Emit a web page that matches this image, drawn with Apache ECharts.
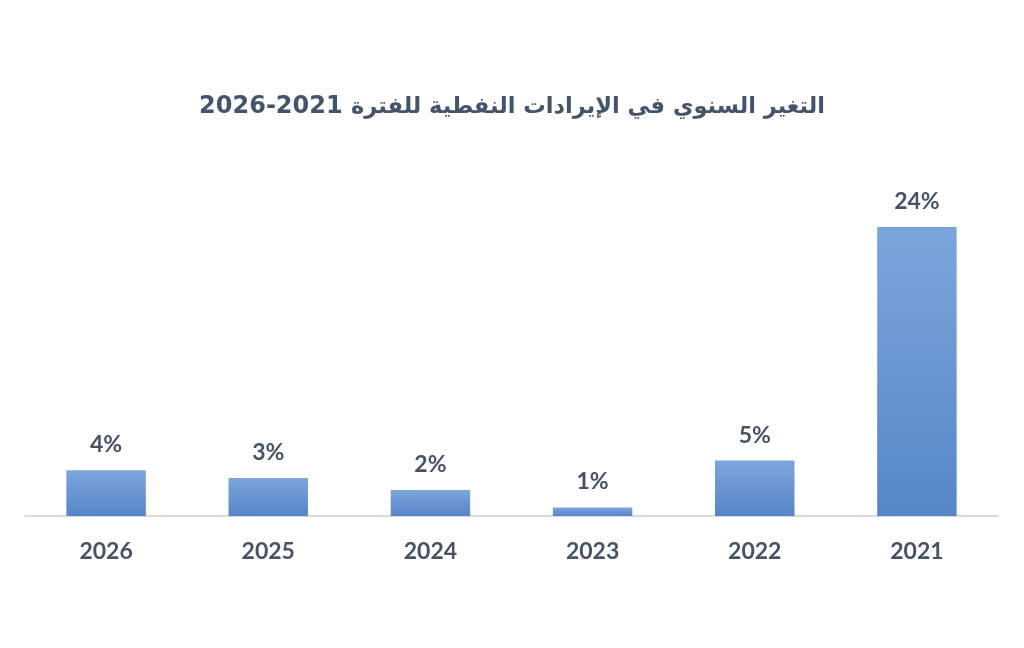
<!DOCTYPE html>
<html>
<head>
<meta charset="utf-8">
<script src="https://cdn.jsdelivr.net/npm/echarts@6/dist/echarts.min.js"></script>
<style>
html,body{margin:0;padding:0;background:#fff;}
#c{width:1024px;height:648px;}
</style>
</head>
<body>
<div id="c"></div>
<script>
const titleYears = "2026-2021";
const titleWords = "التغير السنوي في الإيرادات النفطية للفترة";
const categories = ["2026", "2025", "2024", "2023", "2022", "2021"];
const values = [3.8, 3.15, 2.15, 0.7, 4.6, 24];

const chart = echarts.init(document.getElementById('c'), null, {renderer: 'canvas'});
chart.setOption({
  animation: false,
  backgroundColor: '#ffffff',
  title: {
    text: '{n|' + titleYears + ' }{a|' + titleWords + '}',
    left: 'center',
    top: 87,
    textStyle: {
      fontFamily: 'DejaVu Sans, sans-serif',
      fontWeight: 'bold',
      fontSize: 24,
      color: '#44546a',
      rich: {
        n: {fontFamily: 'DejaVu Sans, sans-serif', fontWeight: 'bold', fontSize: 24, color: '#44546a', lineHeight: 30},
        a: {fontFamily: 'DejaVu Sans, sans-serif', fontWeight: 'bold', fontSize: 22.5, color: '#44546a', lineHeight: 30}
      }
    }
  },
  grid: {left: 25, right: 26, top: 227, bottom: 132, containLabel: false},
  xAxis: {
    type: 'category',
    data: categories,
    axisLine: {lineStyle: {color: '#d9d9d9', width: 2}},
    axisTick: {show: false},
    axisLabel: {
      margin: 24,
      fontFamily: 'Lato, sans-serif',
      fontWeight: 'bold',
      fontSize: 23,
      color: '#475266'
    }
  },
  yAxis: {
    type: 'value',
    min: 0,
    max: 24,
    show: false,
    splitLine: {show: false}
  },
  series: [{
    type: 'bar',
    data: values,
    barWidth: '49%',
    itemStyle: {
      color: new echarts.graphic.LinearGradient(0, 0, 0, 1, [
        {offset: 0, color: '#7ca5dc'},
        {offset: 1, color: '#5686c8'}
      ])
    },
    label: {
      show: true,
      position: 'top',
      distance: 14,
      formatter: p => Math.round(p.value) + '%',
      fontFamily: 'Lato, sans-serif',
      fontWeight: 'bold',
      fontSize: 23,
      color: '#475266'
    }
  }]
});
</script>
</body>
</html>
